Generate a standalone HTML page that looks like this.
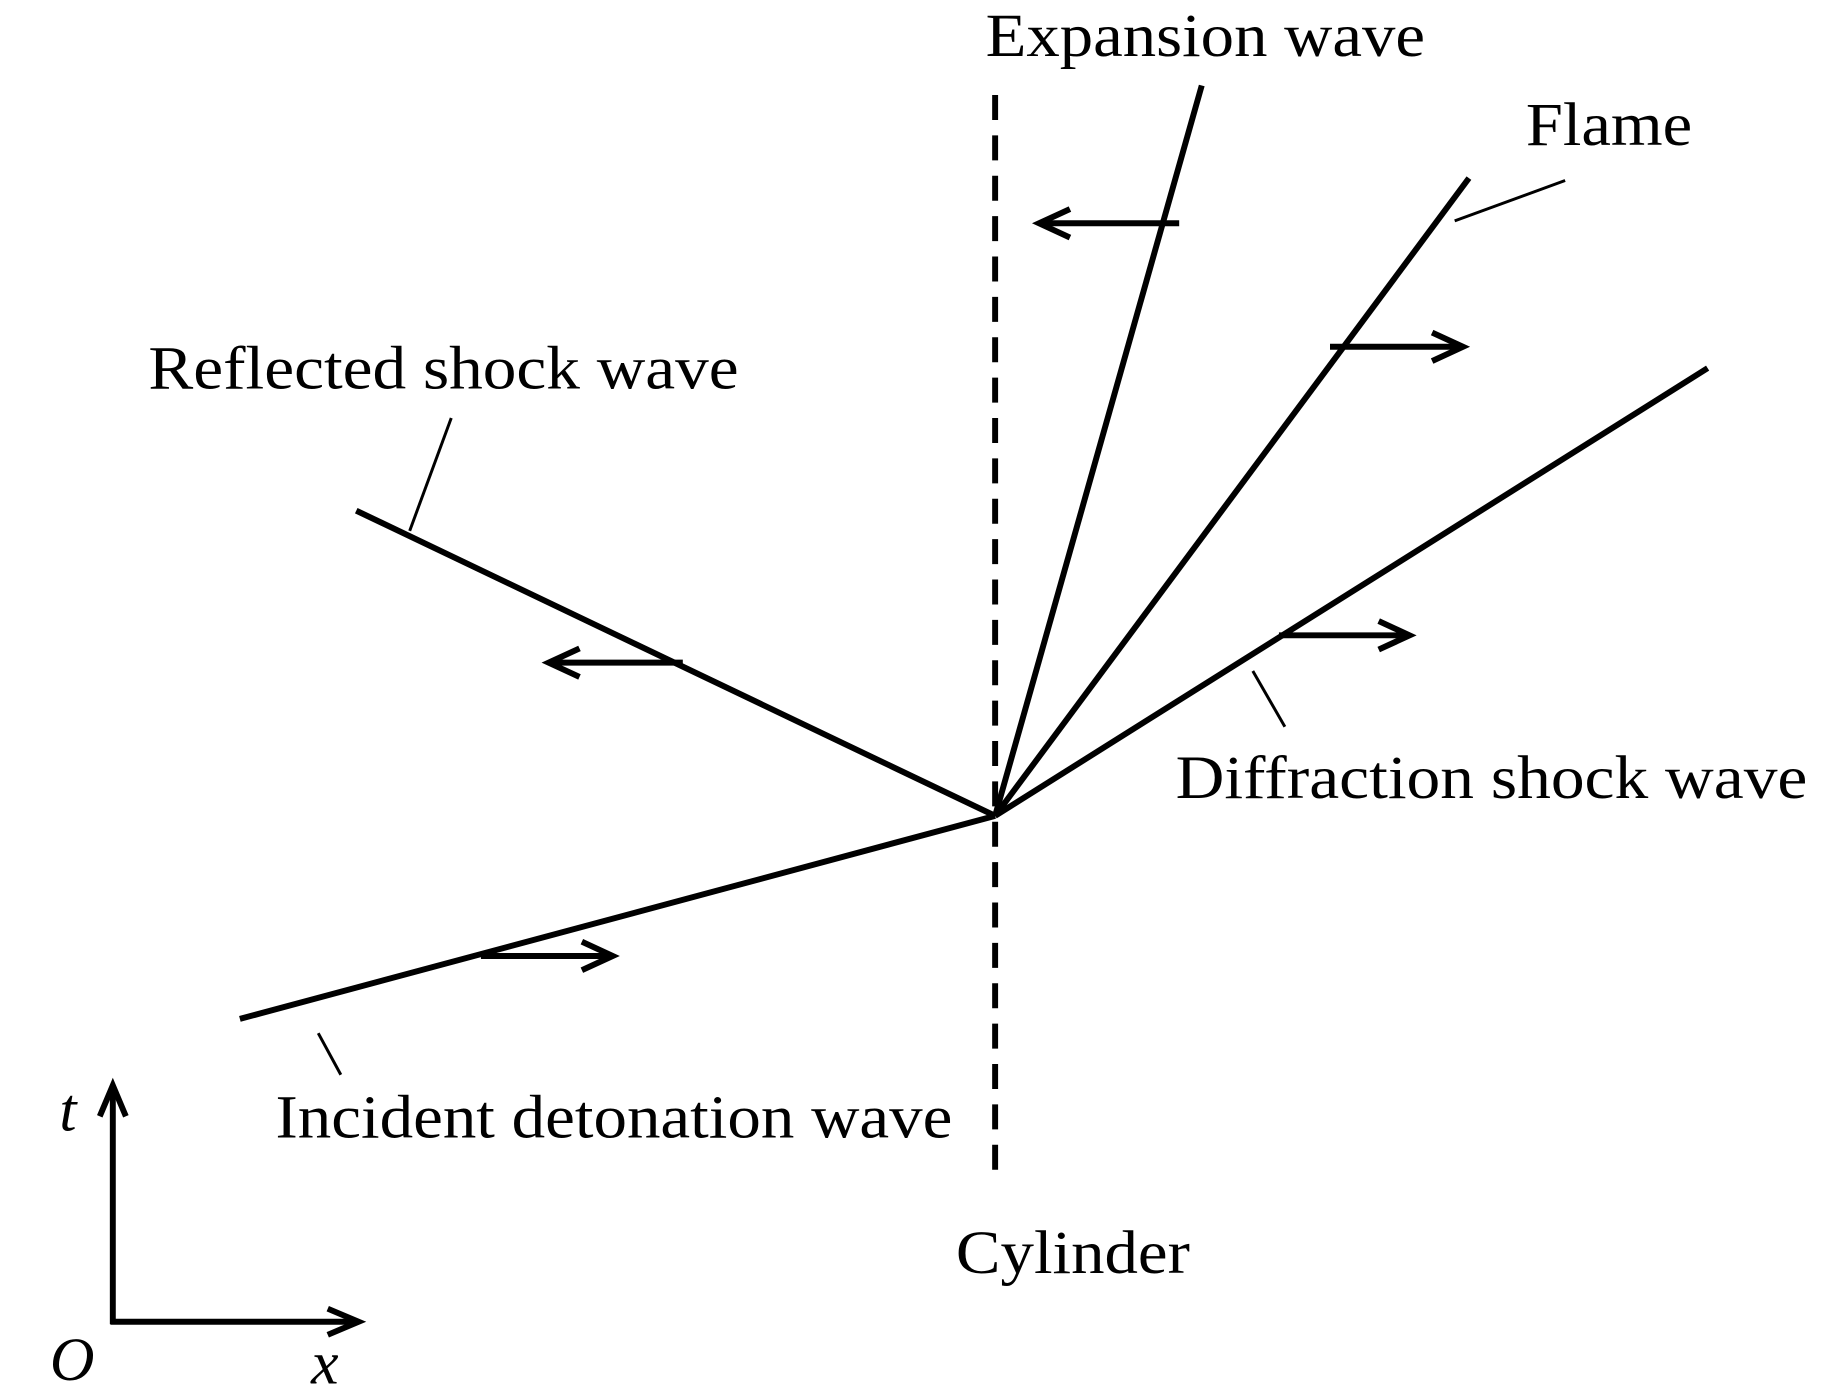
<!DOCTYPE html>
<html><head><meta charset="utf-8"><style>html,body{margin:0;padding:0;background:#fff}svg{display:block}</style></head>
<body>
<svg width="1843" height="1393" viewBox="0 0 1552 1173" preserveAspectRatio="none" xmlns="http://www.w3.org/2000/svg">
<g stroke="#000" fill="none" stroke-linecap="butt">
<line x1="838" y1="80" x2="838" y2="985" stroke-width="5" stroke-dasharray="21,13"/>
<g stroke-width="5">
<line x1="202" y1="858" x2="838" y2="687"/>
<line x1="300" y1="430" x2="838" y2="687"/>
<line x1="838" y1="687" x2="1012" y2="72"/>
<line x1="838" y1="687" x2="1237" y2="150"/>
<line x1="838" y1="687" x2="1438" y2="310"/>
</g>
<g stroke-width="5">
<line x1="405" y1="805" x2="516" y2="805"/><polyline points="490,793 516,805 490,817"/>
<line x1="575" y1="558" x2="462" y2="558"/><polyline points="488,546 462,558 488,570"/>
<line x1="993" y1="188" x2="875" y2="188"/><polyline points="901,176 875,188 901,200"/>
<line x1="1120" y1="292" x2="1232" y2="292"/><polyline points="1206,280 1232,292 1206,304"/>
<line x1="1077" y1="535" x2="1187" y2="535"/><polyline points="1161,523 1187,535 1161,547"/>
<line x1="95" y1="1115" x2="95" y2="914"/><polyline points="84,940 95,914 106,940"/>
<line x1="93" y1="1113" x2="302" y2="1113"/><polyline points="276,1102 302,1113 276,1124"/>
</g>
<g stroke-width="2.5">
<line x1="380" y1="352" x2="345" y2="447"/>
<line x1="1318" y1="152" x2="1225" y2="186"/>
<line x1="1082" y1="612" x2="1055" y2="565"/>
<line x1="287" y1="905" x2="268" y2="870"/>
</g>
</g>
<g font-family="Liberation Serif, serif" font-size="52" fill="#000">
<text x="830" y="47" textLength="370" lengthAdjust="spacingAndGlyphs">Expansion wave</text>
<text x="1285" y="122" textLength="140" lengthAdjust="spacingAndGlyphs">Flame</text>
<text x="125" y="327" textLength="497" lengthAdjust="spacingAndGlyphs">Reflected shock wave</text>
<text x="990" y="672" textLength="532" lengthAdjust="spacingAndGlyphs">Diffraction shock wave</text>
<text x="232" y="958" textLength="570" lengthAdjust="spacingAndGlyphs">Incident detonation wave</text>
<text x="805" y="1072" textLength="197" lengthAdjust="spacingAndGlyphs">Cylinder</text>
<text x="50" y="952" font-style="italic">t</text>
<text x="42" y="1162" font-style="italic">O</text>
<text x="262" y="1165" font-style="italic">x</text>
</g>
</svg>
</body></html>
